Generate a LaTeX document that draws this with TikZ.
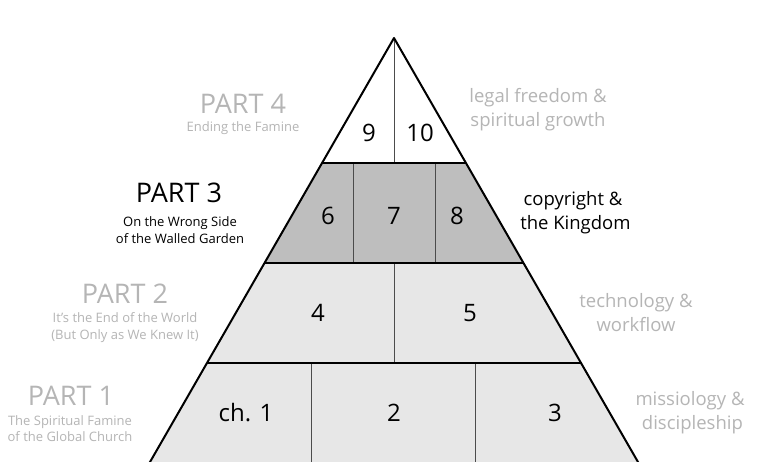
\documentclass[tikz,border=0pt]{standalone}
\usepackage{fontspec}
\setmainfont{Open Sans}
\definecolor{lbl}{HTML}{B5B5B5}
\definecolor{midfill}{HTML}{BEBEBE}
\definecolor{lowfill}{HTML}{E7E7E7}
\begin{document}
\begin{tikzpicture}[x=1pt,y=-1pt,
  num/.style={font=\fontsize{24}{24}\selectfont, text=black, inner sep=0pt},
  part/.style={font=\fontsize{27}{27}\selectfont, text=lbl, inner sep=0pt},
  sub/.style={font=\fontsize{13}{16.5}\selectfont, text=lbl, align=center, inner sep=0pt},
  side/.style={font=\fontsize{18.5}{24}\selectfont, text=lbl, align=center, inner sep=0pt},
  edgeline/.style={line width=2pt, line join=round},
  divline/.style={line width=0.8pt, draw=black!70}]
\useasboundingbox (0,0) rectangle (781,462);
\fill[white] (0,0) rectangle (781,462);
\begin{scope}
\clip (0,0) rectangle (781,462);
\coordinate (apex) at (394,38);
\coordinate (a1) at (322.1,163); \coordinate (b1) at (465.9,163);
\coordinate (a2) at (264.5,263); \coordinate (b2) at (523.5,263);
\coordinate (a3) at (207,363);   \coordinate (b3) at (581,363);
\coordinate (a4) at (145.4,470); \coordinate (b4) at (642.6,470);
\fill[white] (apex) -- (b1) -- (a1) -- cycle;
\fill[midfill] (a1) -- (b1) -- (b2) -- (a2) -- cycle;
\fill[lowfill] (a2) -- (b2) -- (b4) -- (a4) -- cycle;
% dividers
\coordinate (t1) at (394,163);
\coordinate (m1) at (353,163); \coordinate (m2) at (353,263);
\coordinate (n1) at (435,163); \coordinate (n2) at (435,263);
\coordinate (c1) at (394,263); \coordinate (c2) at (394,363);
\coordinate (p1) at (311,363); \coordinate (p2) at (311,470);
\coordinate (q1) at (475,363); \coordinate (q2) at (475,470);
\draw[divline] (apex) -- (t1);
\draw[divline] (m1) -- (m2);
\draw[divline] (n1) -- (n2);
\draw[divline] (c1) -- (c2);
\draw[divline] (p1) -- (p2);
\draw[divline] (q1) -- (q2);
\draw[edgeline] (a1) -- (b1);
\draw[edgeline] (a2) -- (b2);
\draw[edgeline] (a3) -- (b3);
\draw[edgeline] (a4) -- (apex) -- (b4);
\end{scope}
% numbers
\node[num] (n9) at (369,133) {9};
\node[num] (n10) at (420,133) {10};
\node[num] (n6) at (328,216) {6};
\node[num] (n7) at (394,216) {7};
\node[num] (n8) at (457,216) {8};
\node[num] (n4) at (318,313) {4};
\node[num] (n5) at (470,313) {5};
\node[num] (n1) at (246,413) {ch. 1};
\node[num] (n2) at (394,413) {2};
\node[num] (n3) at (555,413) {3};
% left labels
\node[part] (p4) at (243,104) {PART 4};
\node[sub] (s4) at (243,128) {Ending the Famine};
\node[part, text=black] (p3) at (179,193) {PART 3};
\node[sub, text=black] (s3) at (180,230) {On the Wrong Side\\of the Walled Garden};
\node[part] (p2) at (125,294) {PART 2};
\node[sub] (s2) at (125,327.5) {It’s the End of the World\\(But Only as We Knew It)};
\node[part] (p1) at (71,396) {PART 1};
\node[sub] (s1) at (70,428.5) {The Spiritual Famine\\of the Global Church};
% right labels
\node[side] (r4) at (538,110) {legal freedom \&\\spiritual growth};
\node[side, text=black] (r3) at (573,213) {copyright \&\\\ the Kingdom};
\node[side] (r2) at (636,313) {technology \&\\workflow};
\node[side] (r1) at (690,413) {missiology \&\\\ discipleship};
\end{tikzpicture}
\end{document}
